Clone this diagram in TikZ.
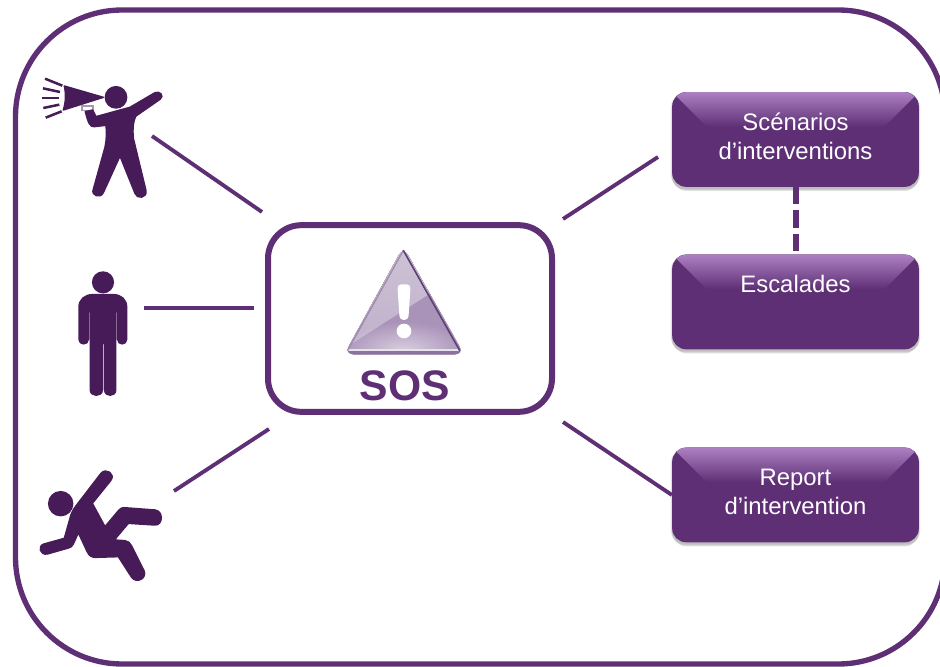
\documentclass[tikz,border=0pt]{standalone}
\usepackage{fontspec}
\setmainfont{Liberation Sans}
\usetikzlibrary{shadows,fadings}
\definecolor{framepurple}{HTML}{5E2F75}
\definecolor{figpurple}{HTML}{471B58}
\definecolor{boxtop}{HTML}{AC80C2}
\definecolor{boxside}{HTML}{6D4186}
\definecolor{warnlight}{HTML}{CEC3D6}
\definecolor{warnmid}{HTML}{BEAEC9}
\definecolor{warndark}{HTML}{AA93B9}
\definecolor{warnglow}{HTML}{E8E2EC}
\definecolor{warnbase}{HTML}{8E729E}
\definecolor{warnedge}{HTML}{5F3F78}
\definecolor{warnleft}{HTML}{A08AB0}
\definecolor{handlegrey}{HTML}{A598AE}
\tikzfading[name=glowfade,inner color=transparent!0,outer color=transparent!100]
\tikzset{
    frameline/.style={draw=framepurple,line width=4pt,rounded corners=80pt},
    link/.style={draw=framepurple,line width=2.9pt},
    ray/.style={draw=figpurple,line width=1.9pt},
    figbody/.style={fill=figpurple,draw=figpurple,line width=1.1pt,line join=round},
    actionbox/.style={rounded corners=10.5pt,fill=framepurple,text=white,align=center,inner sep=0pt,
        minimum width=185pt,minimum height=71pt,
        font=\fontsize{17.9}{21.75}\selectfont,
        execute at end node=\rule[-5pt]{0pt}{0pt},
        general shadow={fill=black,opacity=.07,shadow yshift=-1pt,shadow scale=1.012},
        general shadow={fill=black,opacity=.09,shadow yshift=-2pt,shadow scale=1.006},
        general shadow={fill=black,opacity=.12,shadow yshift=-3pt},
        path picture={
            \begin{scope}[sharp corners]
            \coordinate (nw) at (path picture bounding box.north west);
            \coordinate (ne) at (path picture bounding box.north east);
            \fill[top color=boxtop,middle color=boxside,bottom color=framepurple]
                (nw) -- (ne) -- ([xshift=-26pt,yshift=-26pt]ne) -- ([xshift=26pt,yshift=-26pt]nw) -- cycle;
            \end{scope}
        }},
}
\begin{document}
\begin{tikzpicture}[x=0.75pt,y=-0.75pt]
    \useasboundingbox (0,0) rectangle (940,667);
    \clip (0,0) rectangle (940,667);

    % frame
    \draw[frameline] (15.5,10) rectangle (945,664);

    % centre
    \node[draw=framepurple,line width=4.5pt,rounded corners=25pt,minimum width=213pt,minimum height=140pt,inner sep=0pt] (sos) at (410,318.5) {};
    \node[text=framepurple,font=\fontsize{32}{36}\selectfont\bfseries] (soslabel) at (405,386) {SOS};

    % warning sign
    \begin{scope}[shift={(260,215)},scale=1/3]
        \begin{scope}
            \clip[rounded corners=7pt] (430,95) -- (612,418) -- (253,418) -- cycle;
            \fill[top color=warnlight,bottom color=warnmid] (250,95) rectangle (615,420);
            \fill[warndark] (504,240) -- (270,390) -- (250,420) -- (615,420) -- (615,200) -- (540,215) -- cycle;
            \fill[white,opacity=.55,path fading=glowfade] (430,405) ellipse[x radius=190,y radius=85];
            \fill[warnglow] (253,403) rectangle (612,409);
            \fill[warnbase] (253,409) rectangle (612,420);
        \end{scope}
        \draw[warnleft,line width=1pt,rounded corners=5pt] (262,408) -- (430,106);
        \draw[warnedge,line width=1.2pt,rounded corners=5pt] (430,106) -- (600,408);
        \fill[white,rounded corners=3pt] (412,208) -- (452,208) -- (445,315) -- (419,315) -- cycle;
        \fill[white] (432,348) circle[radius=22];
    \end{scope}

    % figures
    \begin{scope}[shift={(20,60)},scale=1/3]
        \foreach \xa/\ya/\xb/\yb in {75/56/127/77,69/85/120/96,65/114/116/114,70/144/118/134,77/173/125/154}
            \draw[ray] (\xa,\ya) -- (\xb,\yb);
        \fill[figbody] (288,112) circle[radius=32];
        \fill[figbody] (133,78) -- (250,112) -- (130,150) .. controls (138,125) and (138,100) .. (133,78) -- cycle;
        \draw[handlegrey,line width=1pt] (186,138) rectangle (219,152);
        \fill[figbody] (405,98) .. controls (420,92) and (434,108) .. (420,118) -- (348,168)
            .. controls (338,185) and (338,215) .. (340,235) -- (378,392) .. controls (382,415) and (350,418) .. (345,400)
            -- (300,288) -- (250,398) .. controls (240,418) and (212,405) .. (220,388) -- (255,262) .. controls (260,240) and (260,215) .. (258,196)
            -- (222,200) .. controls (210,200) and (205,190) .. (196,155) -- (218,150) -- (228,170) -- (300,150) -- (330,142) -- cycle;
    \end{scope}
    \begin{scope}[shift={(60,260)},scale=1/3]
        \fill[figbody] (129,67) circle[radius=31];
        \fill[figbody] (57,238) -- (57,142) .. controls (57,118) and (75,104) .. (98,104) -- (160,104) .. controls (183,104) and (200,118) .. (200,142)
            -- (200,238) .. controls (200,256) and (173,256) .. (173,238) -- (173,155) -- (167,155) -- (167,390) .. controls (167,411) and (134,411) .. (134,390)
            -- (134,250) -- (127,250) -- (127,390) .. controls (127,411) and (91,411) .. (91,390) -- (91,155) -- (85,155) -- (85,238) .. controls (85,256) and (57,256) .. (57,238) -- cycle;
    \end{scope}
    \begin{scope}[shift={(20,450)},scale=1/3]
        \fill[figbody] (122,161) circle[radius=36];
        \fill[figbody] (170,165) -- (243,70) .. controls (258,52) and (288,72) .. (272,92) -- (217,160) -- (255,230) -- (297,180) .. controls (302,175) and (306,173) .. (312,173)
            -- (405,180) .. controls (430,182) and (430,226) .. (405,225) -- (325,220) -- (283,270) -- (315,272) .. controls (325,272) and (330,280) .. (335,288)
            -- (372,362) .. controls (382,385) and (350,402) .. (335,382) -- (295,320) -- (228,322) .. controls (215,322) and (208,318) .. (202,306) -- (175,248) -- (160,282) .. controls (156,290) and (152,292) .. (145,294)
            -- (82,312) .. controls (60,316) and (52,288) .. (72,282) -- (133,265) -- (150,205) .. controls (153,190) and (160,178) .. (170,165) -- cycle;
    \end{scope}

    % actions
    \node[actionbox] (scenarios) at (795.5,139.5) {Scénarios\\d’interventions};
    \node[actionbox] (escalades) at (795.5,302) {Escalades\\~};
    \node[actionbox] (report) at (795.5,495) {Report\\d’intervention};

    % connectors
    \coordinate (callerend) at (152,136);
    \coordinate (callerin) at (262,212);
    \coordinate (userend) at (144,308);
    \coordinate (userin) at (254,308);
    \coordinate (fallerend) at (174,491);
    \coordinate (fallerin) at (269,429);
    \coordinate (scenin) at (658,157);
    \coordinate (sosscen) at (563,219);
    \coordinate (sosreport) at (563,422);
    \draw[link] (callerend) -- (callerin);
    \draw[link] (userend) -- (userin);
    \draw[link] (fallerend) -- (fallerin);
    \draw[link] (sosscen) -- (scenin);
    \draw[link] (sosreport) -- (report.west);
    \draw[framepurple,line width=4.5pt,dash pattern=on 13pt off 4.5pt] (scenarios.south) -- (escalades.north);
\end{tikzpicture}
\end{document}
